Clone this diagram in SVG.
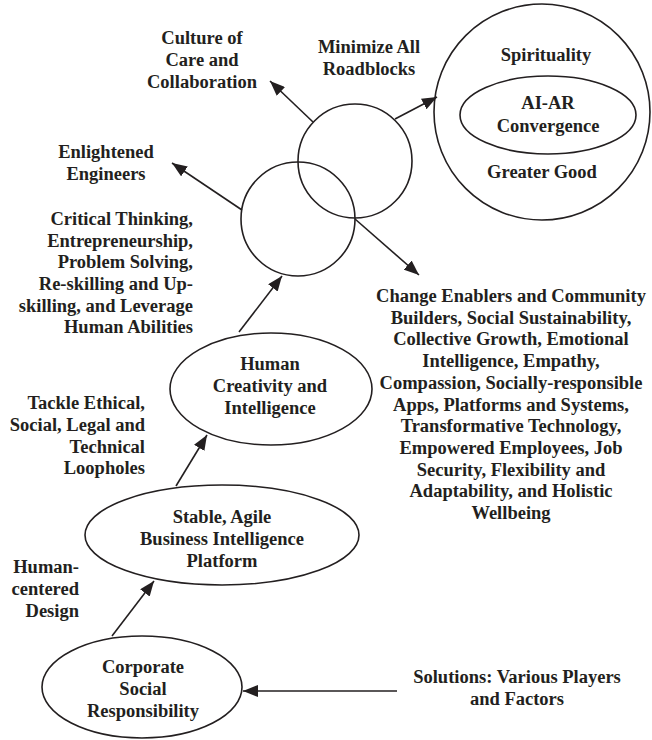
<svg xmlns="http://www.w3.org/2000/svg" width="652" height="740" viewBox="0 0 652 740">
<style>
text{font-family:"Liberation Serif","Times New Roman",serif;font-weight:bold;font-size:18.5px;fill:#231f20}
.c{text-anchor:middle}
.r{text-anchor:end}
.shape{fill:none;stroke:#231f20;stroke-width:1.6}
.conn line{stroke:#231f20;stroke-width:1.6;marker-end:url(#ah)}
</style>
<defs>
<marker id="ah" markerUnits="userSpaceOnUse" markerWidth="16" markerHeight="12" refX="15" refY="6" orient="auto">
<path d="M0,0 L15,6 L0,12 Z" fill="#231f20"/>
</marker>
</defs>
<rect width="652" height="740" fill="#fff"/>

<g id="goal">
<circle class="shape" cx="542" cy="112" r="108"/>
<text class="c" x="546" y="61">Spirituality</text>
<text class="c" x="542" y="178">Greater Good</text>
</g>
<g id="aiar">
<ellipse class="shape" cx="548" cy="115" rx="88" ry="39"/>
<text class="c" x="548" y="109">AI-AR</text>
<text class="c" x="548" y="132">Convergence</text>
</g>
<g id="circle-upper">
<circle class="shape" cx="355" cy="161" r="57"/>
</g>
<g id="circle-lower">
<circle class="shape" cx="298" cy="219" r="57"/>
</g>
<g id="human">
<ellipse class="shape" cx="271" cy="389" rx="101" ry="56"/>
<text class="c" x="270" y="370">Human</text>
<text class="c" x="270" y="392">Creativity and</text>
<text class="c" x="270" y="414">Intelligence</text>
</g>
<g id="stable">
<ellipse class="shape" cx="222" cy="535" rx="137" ry="50"/>
<text class="c" x="222" y="523">Stable, Agile</text>
<text class="c" x="222" y="545">Business Intelligence</text>
<text class="c" x="222" y="567">Platform</text>
</g>
<g id="csr">
<ellipse class="shape" cx="142" cy="687" rx="100" ry="51"/>
<text class="c" x="143" y="673">Corporate</text>
<text class="c" x="143" y="695">Social</text>
<text class="c" x="143" y="717">Responsibility</text>
</g>

<g id="label-culture">
<text class="c" x="202" y="44">Culture of</text>
<text class="c" x="202" y="66">Care and</text>
<text class="c" x="202" y="88">Collaboration</text>
</g>
<g id="label-minimize">
<text class="c" x="369" y="53">Minimize All</text>
<text class="c" x="369" y="75">Roadblocks</text>
</g>
<g id="label-enlightened">
<text class="c" x="106" y="158">Enlightened</text>
<text class="c" x="106" y="180">Engineers</text>
</g>
<g id="label-critical">
<text class="r" x="193" y="225">Critical Thinking,</text>
<text class="r" x="193" y="247">Entrepreneurship,</text>
<text class="r" x="193" y="268">Problem Solving,</text>
<text class="r" x="193" y="290">Re-skilling and Up-</text>
<text class="r" x="193" y="312">skilling, and Leverage</text>
<text class="r" x="193" y="333">Human Abilities</text>
</g>
<g id="label-tackle">
<text class="r" x="145" y="409">Tackle Ethical,</text>
<text class="r" x="145" y="431">Social, Legal and</text>
<text class="r" x="145" y="453">Technical</text>
<text class="r" x="145" y="474">Loopholes</text>
</g>
<g id="label-humancentered">
<text class="r" x="79" y="573">Human-</text>
<text class="r" x="79" y="595">centered</text>
<text class="r" x="79" y="617">Design</text>
</g>
<g id="label-change">
<text class="c" x="511" y="302">Change Enablers and Community</text>
<text class="c" x="511" y="323.7">Builders, Social Sustainability,</text>
<text class="c" x="511" y="345.4">Collective Growth, Emotional</text>
<text class="c" x="511" y="367.1">Intelligence, Empathy,</text>
<text class="c" x="511" y="388.8">Compassion, Socially-responsible</text>
<text class="c" x="511" y="410.5">Apps, Platforms and Systems,</text>
<text class="c" x="511" y="432.2">Transformative Technology,</text>
<text class="c" x="511" y="453.9">Empowered Employees, Job</text>
<text class="c" x="511" y="475.6">Security, Flexibility and</text>
<text class="c" x="511" y="497.3">Adaptability, and Holistic</text>
<text class="c" x="511" y="519">Wellbeing</text>
</g>
<g id="label-solutions">
<text class="c" x="517" y="683">Solutions: Various Players</text>
<text class="c" x="517" y="705">and Factors</text>
</g>

<g id="connectors" class="conn">
<line x1="313" y1="122" x2="270" y2="81"/>
<line x1="395" y1="119" x2="437" y2="97"/>
<line x1="242" y1="210" x2="172" y2="163"/>
<line x1="355" y1="219" x2="419" y2="275"/>
<line x1="239" y1="332" x2="282" y2="276"/>
<line x1="176" y1="486" x2="207" y2="435"/>
<line x1="112" y1="636" x2="154" y2="581"/>
<line x1="397" y1="691" x2="243" y2="691"/>
</g>
</svg>
